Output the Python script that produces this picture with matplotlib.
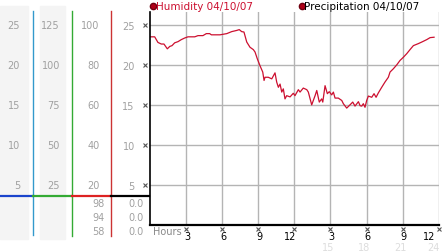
import matplotlib
matplotlib.use("Agg")
import matplotlib.pyplot as plt
from matplotlib.lines import Line2D
from matplotlib.patches import Rectangle
import matplotlib.transforms as mtransforms

# Humidity readings 04/10/07 (hour of day, value)
hours = [0.00, 0.39, 0.66, 0.94, 1.16, 1.44, 1.64, 1.83, 2.05, 2.33, 2.60, 2.88,
         3.16, 3.72, 3.99, 4.40, 4.68, 4.96, 5.10, 5.82, 6.38, 6.79, 7.21, 7.42,
         7.62, 7.81, 8.04, 8.31, 8.59, 8.73, 8.92, 9.14, 9.37, 9.48, 9.56, 9.83,
         10.12, 10.39, 10.53, 10.67, 10.81, 10.95, 11.08, 11.22, 11.36, 11.64,
         11.91, 12.05, 12.33, 12.47, 12.74, 13.03, 13.16, 13.44, 13.72, 13.86,
         14.07, 14.27, 14.36, 14.55, 14.74, 14.90, 15.10, 15.24, 15.38, 15.65,
         15.94, 16.07, 16.35, 16.62, 16.85, 17.04, 17.32, 17.46, 17.60, 17.73,
         17.87, 18.01, 18.15, 18.43, 18.62, 18.79, 18.98, 19.26, 19.53, 19.81,
         19.95, 20.22, 20.51, 20.78, 21.06, 21.34, 21.61, 21.89, 22.30, 22.59,
         23.00, 23.28, 23.61]
humidity = [23.5, 23.5, 22.8, 22.6, 22.6, 22.0, 22.3, 22.4, 22.75, 22.9, 23.15, 23.35,
            23.5, 23.5, 23.65, 23.65, 23.9, 23.9, 23.75, 23.75, 23.9, 24.15, 24.3, 24.4,
            24.15, 24.1, 22.85, 22.2, 21.9, 21.6, 20.75, 19.9, 19.1, 18.05, 18.45, 18.45,
            18.25, 19.0, 17.85, 17.2, 17.6, 16.6, 17.0, 15.75, 16.15, 16.0,
            16.45, 16.15, 16.9, 16.6, 17.1, 16.9, 16.6, 15.0, 16.15, 16.8,
            15.35, 15.75, 15.35, 17.4, 16.4, 16.65, 16.25, 16.6, 15.85, 15.85,
            15.55, 15.15, 14.6, 15.0, 15.35, 14.85, 15.4, 14.9, 14.85, 15.15,
            14.7, 15.55, 16.1, 15.95, 16.4, 15.95, 16.5, 17.2, 17.85, 18.45,
            19.1, 19.5, 20.0, 20.55, 20.95, 21.4, 21.9, 22.4, 22.65, 22.85,
            23.15, 23.4, 23.45]

main_ticks = [5, 10, 15, 20, 25]
hour_ticks = [3, 6, 9, 12, 15, 18, 21, 24]
hour_labels = ["3", "6", "9", "12", "3", "6", "9", "12"]
pm_labels = ["15", "18", "21", "24"]

col1_labels = ["5", "10", "15", "20", "25"]
col2_labels = ["25", "50", "75", "100", "125"]
col3_labels = ["20", "40", "60", "80", "100"]
col3_extra = ["98", "94", "58"]
col4_extra = ["0.0", "0.0", "0.0"]

W, H = 442, 253
fig = plt.figure(figsize=(W / 100, H / 100), dpi=100)


def fx(x):
    return x / W


def fy(y):
    return 1 - y / H


# main plot area
ax = fig.add_axes([fx(150), fy(226), 289 / W, 213 / H])
ax.plot(hours, humidity, color="#cc1030", lw=0.9)
ax.set_xlim(0, 24.02)
ax.set_ylim(0, 26.6)
ax.set_xticks(hour_ticks)
ax.set_xticklabels([])
ax.set_yticks(main_ticks)
ax.set_yticklabels([str(t) for t in main_ticks], fontsize=7, color="#a0a0a0")
ax.tick_params(axis="both", length=0)
ax.tick_params(axis="y", pad=11)
ax.grid(color="#b4b4b4", lw=1.0)
ax.set_axisbelow(True)
for s in ["top", "right"]:
    ax.spines[s].set_visible(False)
ax.spines["left"].set_linewidth(1.2)
ax.spines["bottom"].set_linewidth(1.6)

# hour labels: single digits centred, two digits right-aligned on the grid line
xt = ax.get_xaxis_transform()
for i, (h, lab) in enumerate(zip(hour_ticks, hour_labels)):
    shift = 1 if len(lab) == 1 else (2 if i < len(hour_ticks) - 1 else -3)
    off = mtransforms.ScaledTranslation(shift / 100, 0, fig.dpi_scale_trans)
    ax.text(h, -10.7 / 213, lab, transform=xt + off, fontsize=7, color="black",
            ha="center" if len(lab) == 1 else "right", va="center")
for i, (h, lab) in enumerate(zip(hour_ticks[4:], pm_labels)):
    shift = -2 if i < 3 else -5
    off = mtransforms.ScaledTranslation(shift / 100, 0, fig.dpi_scale_trans)
    ax.text(h, -22 / 213, lab, transform=xt + off, ha="center", va="center",
            fontsize=7, color="#dddddd")

# small tick markers
ax.plot([-5 / 289] * len(main_ticks), main_ticks, ls="none", marker="x", ms=2.5,
        mew=0.8, color="#555555", transform=ax.get_yaxis_transform(), clip_on=False)
ax.plot(hour_ticks, [-4 / 213] * len(hour_ticks), ls="none", marker="x", ms=2.5,
        mew=0.8, color="#555555", transform=xt, clip_on=False)
fig.text(fx(153), fy(232), "Hours", fontsize=7, color="#888888", ha="left", va="center")

# left scale panel
trans = mtransforms.blended_transform_factory(fig.transFigure, ax.transData)
for x0, x1 in [(0, 28), (40, 65)]:
    fig.add_artist(Rectangle((fx(x0), fy(240)), fx(x1) - fx(x0), (240 - 7) / H,
                             transform=fig.transFigure, color="#f4f4f4", zorder=0))
for labels, xr in [(col1_labels, 20), (col2_labels, 60), (col3_labels, 99.5)]:
    for t, lab in zip(main_ticks, labels):
        fig.text(fx(xr), t, lab, transform=trans, ha="right", va="center",
                 fontsize=7, color="#a0a0a0")
for i, (a, b) in enumerate(zip(col3_extra, col4_extra)):
    y = 204 + 14 * i
    fig.text(fx(105), fy(y), a, ha="right", va="center", fontsize=7, color="#a0a0a0")
    fig.text(fx(144), fy(y), b, ha="right", va="center", fontsize=7, color="#a0a0a0")

for x, c, y1 in [(33, "#3399cc", 236), (72, "#33aa33", 237), (111, "#cc3333", 237)]:
    fig.add_artist(Line2D([fx(x), fx(x)], [fy(12), fy(y1)], color=c, lw=1.0,
                          transform=fig.transFigure))
for x0, x1, c in [(0, 33, "#1a44cc"), (33, 72, "#33aa33"), (72, 111, "#dd2222"),
                  (111, 149, "black")]:
    fig.add_artist(Line2D([fx(x0), fx(x1)], [fy(197), fy(197)], color=c, lw=1.6,
                          transform=fig.transFigure))

# legend
fig.add_artist(Line2D([fx(153.3)], [fy(6.7)], marker="o", ms=4.5, color="#b00018",
                      mec="#700010", transform=fig.transFigure))
fig.text(fx(156), fy(6.7), "Humidity 04/10/07", fontsize=7.5, color="#cc1030",
         ha="left", va="center")
fig.add_artist(Line2D([fx(301.7)], [fy(6.7)], marker="o", ms=4.5, color="#b00018",
                      mec="#700010", transform=fig.transFigure))
fig.text(fx(304.5), fy(6.7), "Precipitation 04/10/07", fontsize=7.5, color="black",
         ha="left", va="center")

fig.savefig("out.png", dpi=100)
